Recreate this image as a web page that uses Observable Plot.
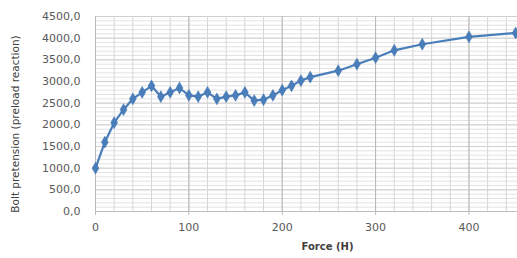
<!DOCTYPE html>
<html>
<head>
<meta charset="utf-8">
<script src="https://cdn.jsdelivr.net/npm/d3@7"></script>
<script src="https://cdn.jsdelivr.net/npm/@observablehq/plot@0.6"></script>
<style>
  html, body { margin: 0; padding: 0; background: #fff; }
</style>
</head>
<body>
<div id="chart"></div>
<script>
const force = [0,10,20,30,40,50,60,70,80,90,100,110,120,130,140,150,160,170,180,190,200,210,220,230,260,280,300,320,350,400,450];
const pretension = [1000,1600,2050,2350,2600,2750,2900,2650,2750,2850,2680,2650,2750,2600,2650,2680,2750,2560,2580,2680,2800,2900,3020,3100,3250,3400,3550,3720,3860,4030,4120];
const yTicks = [0,500,1000,1500,2000,2500,3000,3500,4000,4500];
const xTicks = [0,100,200,300,400];
const xMinor = d3.range(0, 460, 20);
const yMinor = d3.range(0, 4501, 100);

const data = force.map((f, i) => ({force: f, value: pretension[i]}));
const fmt = v => d3.format(".1f")(v).replace(".", ",");

const chart = Plot.plot({
  width: 517,
  height: 258,
  marginLeft: 95,
  marginRight: 0,
  marginTop: 16,
  marginBottom: 47,
  style: {fontFamily: "DejaVu Sans, sans-serif", fontSize: "11px", color: "#595959", background: "#fff"},
  x: {domain: [0, 452]},
  y: {domain: [0, 4500]},
  marks: [
    Plot.ruleY(yMinor, {y: d => d, stroke: "#e3e3e3", strokeWidth: 1}),
    Plot.ruleY(yTicks, {y: d => d, stroke: "#cfcfcf", strokeWidth: 1}),
    Plot.ruleX(xMinor, {x: d => d, stroke: "#d6d6d6", strokeWidth: 1}),
    Plot.ruleX(xTicks, {x: d => d, stroke: "#b8b8b8", strokeWidth: 1}),
    Plot.ruleY([0], {stroke: "#bdbdbd"}),
    Plot.axisY({ticks: yTicks, tickFormat: fmt, tickSize: 0, tickPadding: 15, label: null, fontSize: 11}),
    Plot.axisX({ticks: xTicks, tickFormat: d => String(d), tickSize: 4, tickPadding: 8, stroke: "#bdbdbd", label: null, fontSize: 11}),
    Plot.text(["Force (H)"], {frameAnchor: "bottom", dx: 21, dy: 38, fontWeight: "bold", fontSize: 10, fill: "#404040"}),
    Plot.text(["Bolt pretension (preload reaction)"], {frameAnchor: "left", textAnchor: "middle", dx: -80, dy: 10, rotate: -90, fontSize: 10.5, fill: "#404040"}),
    Plot.line(data, {x: "force", y: "value", stroke: "#4a7ebb", strokeWidth: 2.2}),
    Plot.dot(data, {x: "force", y: "value", symbol: "diamond", r: 3.6, fill: "#4a7ebb", stroke: "#3f70ab", strokeWidth: 0.5})
  ]
});
document.getElementById("chart").appendChild(chart);
</script>
</body>
</html>
